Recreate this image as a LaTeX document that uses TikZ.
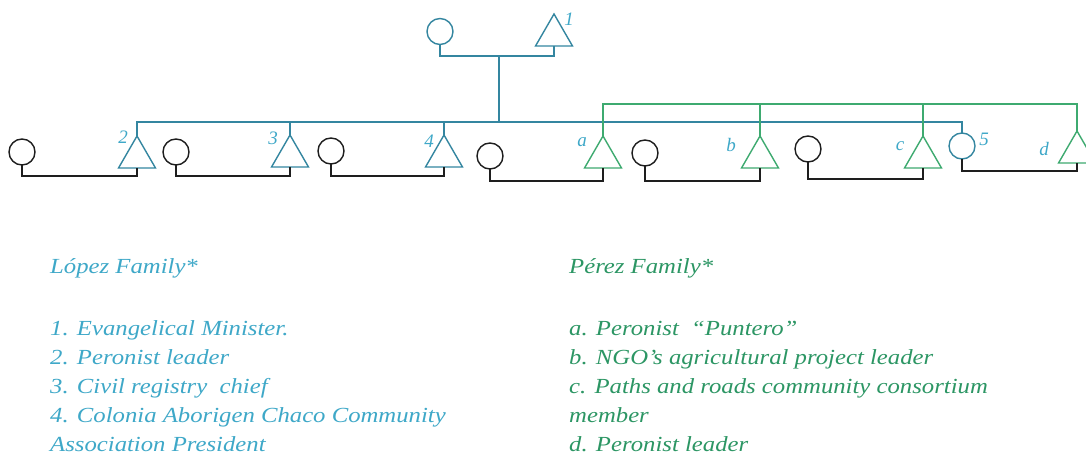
\documentclass[tikz,border=0pt]{standalone}
\usepackage{fontspec}
\setmainfont{Liberation Serif}
\newfontfamily\wideit[FakeStretch=1.15]{Liberation Serif}
\usetikzlibrary{shapes.geometric}
\definecolor{lineblue}{RGB}{52,134,160}
\definecolor{linegreen}{RGB}{62,170,112}
\definecolor{txtblue}{RGB}{62,168,200}
\definecolor{txtgreen}{RGB}{44,150,100}
\definecolor{linedark}{RGB}{30,30,30}
\tikzset{
  fem/.style={circle, draw=linedark, line width=1.4pt, minimum size=26pt, inner sep=0pt, outer sep=0pt},
  femblue/.style={fem, draw=lineblue},
  mal/.style={regular polygon, regular polygon sides=3, draw=lineblue, line width=1.4pt, minimum size=42.7pt, inner sep=0pt, outer sep=0pt},
  malgreen/.style={mal, draw=linegreen},
  bl/.style={draw=lineblue, line width=1.5pt},
  gr/.style={draw=linegreen, line width=1.5pt},
  bk/.style={draw=linedark, line width=1.5pt},
  lab/.style={text=txtblue, font=\fontsize{19}{22}\selectfont\itshape, inner sep=0pt},
  ltxt/.style={text=txtblue, font=\wideit\fontsize{21.5}{24}\selectfont\itshape, inner sep=0pt, anchor=base west},
  gtxt/.style={ltxt, text=txtgreen}
}
\begin{document}
\begin{tikzpicture}[x=1pt, y=-1pt]
\useasboundingbox (0,0) rectangle (1086,457);
\fill[white] (0,0) rectangle (1086,457);
\begin{scope}
\clip (0,0) rectangle (1086,457);
% parents
\node[femblue] (m0) at (440,31.5) {};
\node[mal, anchor=north] (t1) at (554,14) {};
\coordinate (m1) at (499,56);
\coordinate (s1) at (499,122);
\coordinate (g) at (800,104);
% children row
\node[fem] (c1) at (22,152) {};
\node[mal, anchor=north] (t2) at (137,136) {};
\node[fem] (c2) at (176,152) {};
\node[mal, anchor=north] (t3) at (290,135) {};
\node[fem] (c3) at (331,151) {};
\node[mal, anchor=north] (t4) at (444,135) {};
\node[fem] (c4) at (490,156) {};
\node[malgreen, anchor=north] (ta) at (603,136) {};
\node[fem] (c5) at (645,153) {};
\node[malgreen, anchor=north] (tb) at (760,136) {};
\node[fem] (c6) at (808,149) {};
\node[malgreen, anchor=north] (tc) at (923,136) {};
\node[femblue] (p5) at (962,146) {};
\node[malgreen, anchor=north] (td) at (1077,131) {};
% blue family lines
\draw[bl] (m0.south) |- (m1) -| (t1.south);
\draw[bl] (m1) -- (s1);
\draw[bl] (t2.north) |- (s1) -| (p5.north);
\draw[bl] (t3.north) -- (t3.north |- s1);
\draw[bl] (t4.north) -- (t4.north |- s1);
% green family lines
\draw[gr] (ta.north) |- (g) -| (td.north);
\draw[gr] (tb.north) -- (tb.north |- g);
\draw[gr] (tc.north) -- (tc.north |- g);
% couples
\coordinate (k1) at (80,176);
\coordinate (k2) at (233,176);
\coordinate (k3) at (388,176);
\coordinate (k4) at (546,181);
\coordinate (k5) at (702,181);
\coordinate (k6) at (866,179);
\coordinate (k7) at (1020,171);
\draw[bk] (c1.south) |- (k1) -| (t2.south);
\draw[bk] (c2.south) |- (k2) -| (t3.south);
\draw[bk] (c3.south) |- (k3) -| (t4.south);
\draw[bk] (c4.south) |- (k4) -| (ta.south);
\draw[bk] (c5.south) |- (k5) -| (tb.south);
\draw[bk] (c6.south) |- (k6) -| (tc.south);
\draw[bk] (p5.south) |- (k7) -| (td.south);
% labels
\node[lab] (l1) at (569,19) {1};
\node[lab] (l2) at (123,137) {2};
\node[lab] (l3) at (273,138) {3};
\node[lab] (l4) at (429,141) {4};
\node[lab] (la) at (582,142) {a};
\node[lab] (lb) at (731,145) {b};
\node[lab] (lc) at (900,146) {c};
\node[lab] (l5) at (984,139) {5};
\node[lab] (ld) at (1044,149) {d};
\end{scope}
% legend
\node[ltxt] (h1) at (50,273) {López Family*};
\node[ltxt] (a1) at (50,335) {1. Evangelical Minister.};
\node[ltxt] (a2) at (50,364) {2. Peronist leader};
\node[ltxt] (a3) at (50,393) {3. Civil registry\ \ chief};
\node[ltxt] (a4) at (50,422) {4. Colonia Aborigen Chaco Community};
\node[ltxt] (a5) at (50,451) {Association President};
\node[gtxt] (h2) at (569,273) {Pérez Family*};
\node[gtxt] (b1) at (569,335) {a. Peronist \ “Puntero”};
\node[gtxt] (b2) at (569,364) {b. NGO’s agricultural project leader};
\node[gtxt] (b3) at (569,393) {c. Paths and roads community consortium};
\node[gtxt] (b4) at (569,422) {member};
\node[gtxt] (b5) at (569,451) {d. Peronist leader};
\end{tikzpicture}
\end{document}
